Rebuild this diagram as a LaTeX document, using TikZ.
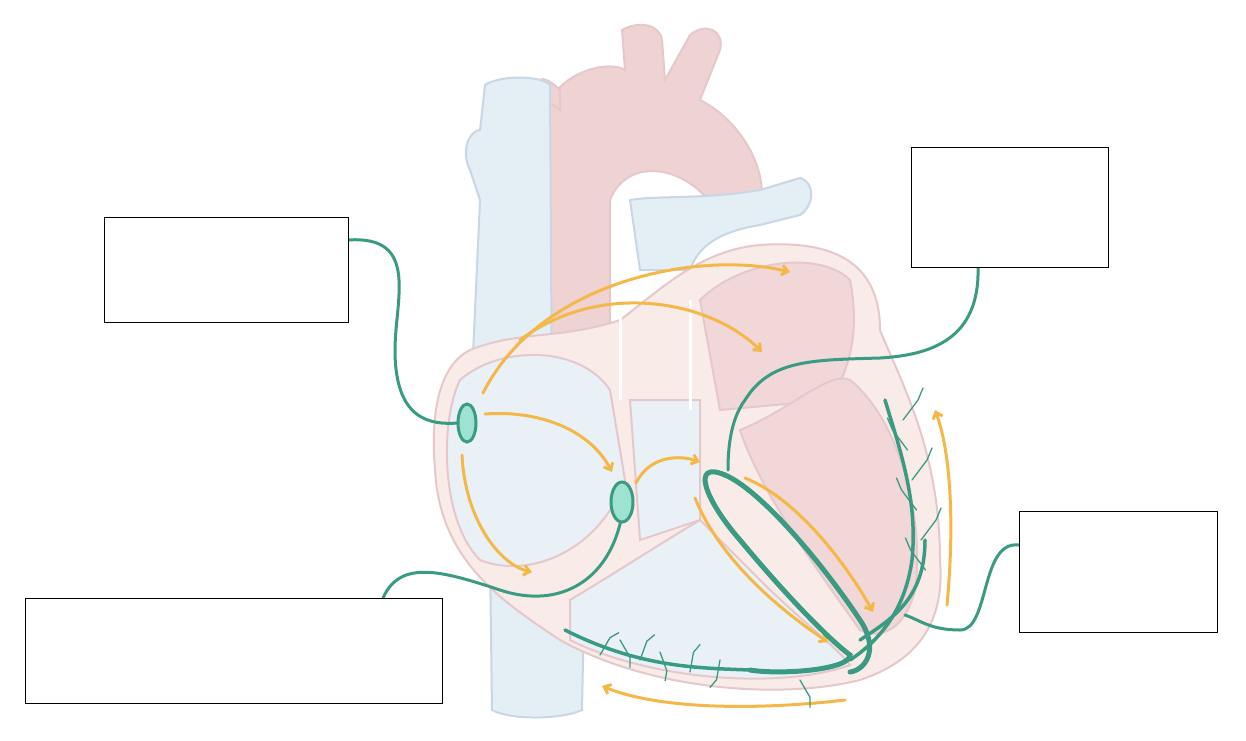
\documentclass[tikz,border=0pt]{standalone}
\usetikzlibrary{arrows.meta,shapes.geometric}
\definecolor{gr}{HTML}{3A9A82}
\definecolor{gl}{HTML}{9EE3D2}
\definecolor{ye}{HTML}{F4B848}
\definecolor{pk}{HTML}{EFD3D3}
\definecolor{pkl}{HTML}{F9EBE8}
\definecolor{pkd}{HTML}{E5C8CC}
\definecolor{bl}{HTML}{E3EEF5}
\definecolor{bld}{HTML}{C9D6E5}
\begin{document}
\begin{tikzpicture}[x=1pt,y=-1pt,
  lbl/.style={draw=black,line width=1pt,fill=white},
  grn/.style={draw=gr,line width=3pt,line cap=round},
  yel/.style={draw=ye,line width=3pt,line cap=round,-{Straight Barb[length=6pt,width=10pt]}},
  pur/.style={draw=gr,line width=1.3pt,line cap=round},
  wall/.style={draw=pkd,line width=2pt}]
\useasboundingbox (0,0) rectangle (1246,740);
% aorta
\path[fill=pk,wall] (545,340) .. controls (530,250) and (520,160) .. (545,110) .. controls (560,70) and (610,60) .. (625,70) -- (622,30) .. controls (640,20) and (660,25) .. (662,40) -- (665,80) -- (690,35) .. controls (705,22) and (725,30) .. (720,50) -- (700,100) .. controls (740,120) and (770,170) .. (760,210) -- (720,220) .. controls (700,170) and (630,150) .. (610,200) -- (610,340) -- cycle;
\path[fill=pk,wall] (560,90) .. controls (540,70) and (530,80) .. (545,100) -- (560,110) -- cycle;
% pulmonary artery / veins
\path[fill=bl,draw=bld,line width=2pt] (630,200) .. controls (660,195) and (700,200) .. (760,190) -- (800,178) .. controls (815,182) and (815,205) .. (800,215) -- (760,225) .. controls (730,230) and (700,240) .. (690,270) -- (640,270) -- cycle;
% SVC
\path[fill=bl,draw=bld,line width=2pt] (485,85) .. controls (500,75) and (540,75) .. (550,85) -- (552,420) -- (470,420) -- (480,200) -- (470,170) .. controls (460,150) and (470,130) .. (480,130) -- cycle;
% IVC
\path[fill=bl,draw=bld,line width=2pt] (490,560) -- (585,560) -- (582,710) .. controls (560,720) and (510,720) .. (492,710) -- cycle;
% heart body
\path[fill=pkl,wall] (470,350) .. controls (520,330) and (560,340) .. (620,320) .. controls (660,290) and (700,250) .. (760,245) .. controls (830,240) and (880,260) .. (880,330) .. controls (900,380) and (940,450) .. (940,560) .. controls (945,620) and (920,660) .. (860,680) .. controls (780,700) and (650,690) .. (560,640) .. controls (500,600) and (440,560) .. (435,470) .. controls (430,410) and (440,365) .. (470,350) -- cycle;
% right atrium
\path[fill=bl!80,draw=pkd,line width=2pt] (460,380) .. controls (500,345) and (580,345) .. (610,390) -- (625,480) .. controls (600,550) and (530,580) .. (480,560) .. controls (440,520) and (440,420) .. (460,380) -- cycle;
% right ventricle
\path[fill=bl!80,draw=pkd,line width=2pt] (570,600) .. controls (620,570) and (650,550) .. (700,520) -- (760,580) .. controls (800,620) and (840,650) .. (850,665) .. controls (780,690) and (650,680) .. (570,640) -- cycle;
\path[fill=bl!80,draw=pkd,line width=2pt] (630,400) -- (700,400) -- (700,520) -- (640,540) -- cycle;
% left atrium / ventricle
\path[fill=pk!90,draw=pkd,line width=2pt] (700,300) .. controls (740,260) and (820,250) .. (850,280) .. controls (860,330) and (850,370) .. (830,400) -- (720,410) -- cycle;
\path[fill=pk!90,draw=pkd,line width=2pt] (740,430) .. controls (790,410) and (830,370) .. (850,380) .. controls (900,420) and (925,520) .. (915,590) .. controls (905,630) and (880,640) .. (860,630) .. controls (810,560) and (760,490) .. (740,430) -- cycle;
% septum lines
\draw[draw=white,line width=3pt] (620,300) -- (620,400) (690,300) -- (690,410);
% yellow arrows
\draw[yel] (483,393) .. controls (540,280) and (700,250) .. (790,272);
\draw[yel] (520,340) .. controls (600,280) and (710,300) .. (762,352);
\draw[yel] (485,414) .. controls (540,410) and (590,430) .. (612,472);
\draw[yel] (462,455) .. controls (465,520) and (500,565) .. (532,572);
\draw[yel] (636,483) .. controls (650,455) and (680,455) .. (700,462);
\draw[yel] (695,498) .. controls (720,560) and (780,610) .. (828,642);
\draw[yel] (745,478) .. controls (800,500) and (850,570) .. (873,612);
\draw[yel] (947,605) .. controls (955,520) and (950,450) .. (935,410);
\draw[yel] (845,700) .. controls (760,710) and (660,710) .. (602,686);
% green conduction
\draw[grn] (348,240) .. controls (420,235) and (395,300) .. (395,350) .. controls (395,420) and (430,425) .. (458,423);
\draw[grn] (622,515) .. controls (610,580) and (560,610) .. (500,590) .. controls (440,570) and (400,560) .. (383,598);
\draw[grn] (978,267) .. controls (980,340) and (930,355) .. (880,358) .. controls (810,360) and (770,360) .. (745,400) .. controls (730,420) and (728,450) .. (728,470);
\draw[grn] (1019,545) .. controls (980,540) and (990,630) .. (960,630) .. controls (930,630) and (920,620) .. (905,615);
\draw[grn,line width=5pt] (725,475) .. controls (690,460) and (705,500) .. (740,540) .. controls (790,600) and (830,640) .. (850,655) .. controls (850,670) and (780,675) .. (750,670);
\draw[grn,line width=5pt] (725,475) .. controls (760,490) and (820,560) .. (860,620) .. controls (880,650) and (865,670) .. (850,672);
\draw[grn,line width=3.5pt] (750,670) .. controls (700,668) and (640,668) .. (565,630);
\draw[grn,line width=3.5pt] (850,660) .. controls (880,640) and (905,610) .. (912,560) .. controls (918,500) and (900,450) .. (885,400);
\draw[grn,line width=3.5pt] (860,640) .. controls (890,620) and (925,600) .. (925,540);
\foreach \x/\y/\a in {600/655/-60,640/660/-70,690/672/-80,620/640/60,660/652/70,720/660/100,800/680/60}
  \draw[pur] (\x,\y) -- ++(\a:20) -- ++(\a+30:10);
\foreach \y/\s in {420/1,450/-1,480/1,510/-1,540/1,570/-1}
  \draw[pur] (900+0.15*\y-60,\y) -- ++(\s*15,-20) -- ++(\s*5,-12);
% nodes
\node[draw=gr,fill=gl,line width=3pt,ellipse,minimum width=18pt,minimum height=38pt,inner sep=0pt] (sa) at (467,423) {};
\node[draw=gr,fill=gl,line width=3pt,ellipse,minimum width=22pt,minimum height=40pt,inner sep=0pt] (av) at (622,502) {};
% labels
\node[lbl,minimum width=244pt,minimum height=105pt] (b1) at (226,269.5) {};
\node[lbl,minimum width=197pt,minimum height=120pt] (b2) at (1009.5,207) {};
\node[lbl,minimum width=198pt,minimum height=121pt] (b3) at (1118,571.5) {};
\node[lbl,minimum width=417pt,minimum height=105pt] (b4) at (233.5,650.5) {};
\end{tikzpicture}
\end{document}
